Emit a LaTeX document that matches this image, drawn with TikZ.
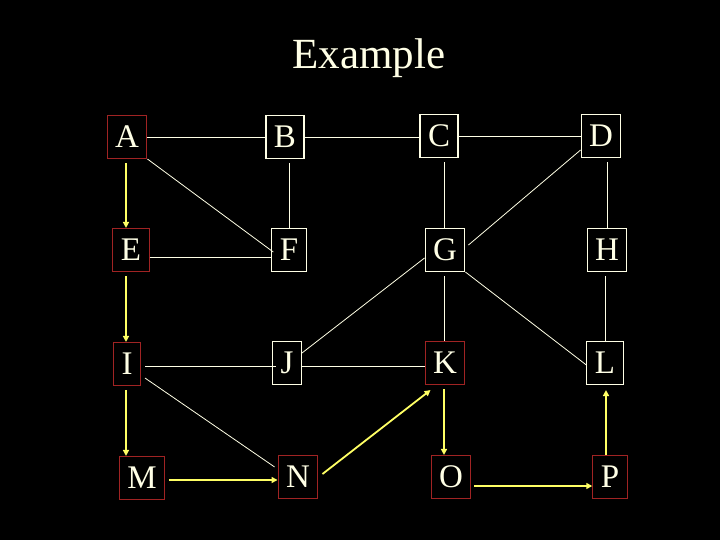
\documentclass[tikz,border=0pt]{standalone}
\usepackage{fontspec}
\setmainfont{Liberation Serif}
\usetikzlibrary{arrows.meta,calc}
\definecolor{ivory}{RGB}{255,255,230}
\definecolor{boxred}{RGB}{160,35,35}
\definecolor{arrowyel}{RGB}{255,255,100}
\tikzset{
  box/.style={draw=ivory, line width=1.1pt, text=ivory, inner xsep=8pt, inner ysep=0pt,
    minimum height=43pt, font=\fontsize{33}{36}\selectfont},
  redbox/.style={box, draw=boxred},
  wl/.style={draw=ivory, line width=0.8pt},
  yl/.style={draw=arrowyel, line width=1.8pt, -{Triangle[length=6pt,width=6pt]}},
}
\begin{document}
\begin{tikzpicture}[x=1pt,y=-1pt]
\useasboundingbox[fill=black] (0,0) rectangle (720,540);
\node[text=ivory, font=\fontsize{43}{50}\selectfont, anchor=base] (title) at (369,69) {Example};
\node[redbox] (A) at (127,137) {A};
\node[box] (B) at (285,137) {B};
\node[box] (C) at (439,136) {C};
\node[box] (D) at (601,136) {D};
\node[redbox] (E) at (131,250) {E};
\node[box] (F) at (289,250) {F};
\node[box] (G) at (445,250) {G};
\node[box] (H) at (607,250) {H};
\node[redbox] (I) at (127,364) {I};
\node[box] (J) at (287,363) {J};
\node[redbox] (K) at (445,363) {K};
\node[box] (L) at (605,363) {L};
\node[redbox] (M) at (142,478) {M};
\node[redbox] (N) at (298,477) {N};
\node[redbox] (O) at (451,477) {O};
\node[redbox] (P) at (610,477) {P};
% white connectors
\draw[wl] (A.east) -- (A.east -| B.west);
\draw[wl] (B.east) -- (B.east -| C.west);
\draw[wl] (C.east) -- (C.east -| D.west);
\draw[wl, shorten >=4pt] (F.north) -- (F.north |- B.south);
\draw[wl, shorten >=4pt] ([xshift=-1pt]G.north) -- ([xshift=-1pt]G.north |- C.south);
\draw[wl, shorten >=4pt] (H.north) -- (H.north |- D.south);
\draw[wl] ([yshift=8pt]D.south west) -- ([shift={(3pt,5pt)}]G.east);
\draw[wl] (A.south east) -- ([shift={(2pt,-2pt)}]F.west);
\draw[wl] ([yshift=-7pt]E.east) -- ([yshift=-7pt]E.east -| F.west);
\draw[wl] ([yshift=-8pt]G.west) -- ([yshift=10pt]J.east);
\draw[wl, shorten <=4pt] ([xshift=-1pt]G.south) -- ([xshift=-1pt]G.south |- K.north);
\draw[wl, shorten <=4pt] (L.north |- H.south) -- (L.north);
\draw[wl] (G.south east) -- ([yshift=-2pt]L.west);
\draw[wl] ([shift={(4pt,-2pt)}]I.east) -- ([shift={(4pt,-2pt)}]I.east -| J.west);
\draw[wl] ([yshift=-3pt]J.east) -- ([yshift=-3pt]J.east -| K.west);
\draw[wl] ([shift={(4pt,8pt)}]I.south east) -- ([shift={(-3pt,-12pt)}]N.north west);
% yellow arrows
\draw[yl, shorten <=4pt] ([xshift=-1pt]A.south) -- ([xshift=-1pt]A.south |- E.north);
\draw[yl, shorten <=4pt] ([xshift=-5pt]E.south) -- ([xshift=-5pt]E.south |- I.north);
\draw[yl, shorten <=4pt] ([xshift=-1pt]I.south) -- ([xshift=-1pt]I.south |- M.north);
\draw[yl, shorten <=4pt] ([yshift=-2pt]M.east) -- ([yshift=-2pt]M.east -| N.west);
\draw[yl] ([shift={(4pt,3pt)}]N.east) -- ([shift={(6pt,-5pt)}]K.south west);
\draw[yl, shorten <=4pt] ([xshift=-1pt]K.south) -- ([xshift=-1pt]K.south |- O.north);
\draw[yl, shorten <=3pt] ([yshift=-9pt]O.east) -- ([yshift=-9pt]O.east -| P.west);
\draw[yl, shorten >=5pt] ([xshift=-4pt]P.north) -- ([xshift=-4pt]P.north |- L.south);
\end{tikzpicture}
\end{document}
